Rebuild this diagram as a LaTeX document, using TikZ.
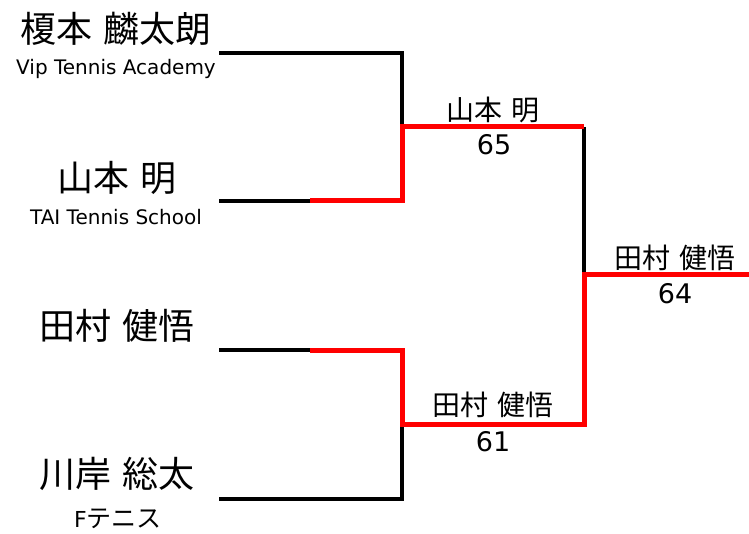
\documentclass[tikz,border=0pt]{standalone}
\usepackage{fontspec}
\setmainfont{DejaVu Sans}
\newfontfamily\jp{Noto Sans CJK JP}
\newcommand{\gap}{\hspace{0.3em}}
\begin{document}
\begin{tikzpicture}[x=1pt,y=-1pt,
  bline/.style={draw=black,line width=3.2pt,line join=miter},
  rline/.style={draw=red,line width=5pt,line join=miter},
  bigname/.style={inner sep=0pt,font=\jp\fontsize{36}{42}\selectfont},
  club/.style={inner sep=0pt,font=\fontsize{20}{24}\selectfont},
  winname/.style={inner sep=0pt,font=\jp\fontsize{28}{32}\selectfont},
  score/.style={inner sep=0pt,font=\fontsize{27}{31}\selectfont}]
\path[use as bounding box] (0,0) rectangle (749,534);
% player names
\node[bigname] (n1) at (116,29) {榎本\gap 麟太朗};
\node[club] (c1) at (116,69) {Vip Tennis Academy};
\node[bigname] (n2) at (117,178) {山本\gap 明};
\node[club] (c2) at (116,217) {TAI Tennis School};
\node[bigname] (n3) at (117,326) {田村\gap 健悟};
\node[bigname] (n4) at (117,474) {川岸\gap 総太};
\node[club] (c4) at (118,519) {{\fontsize{22}{26}\selectfont F}{\jp\fontsize{25}{29}\selectfont テニス}};
% winners and scores
\node[winname] (w1) at (493,110) {山本\gap 明};
\node[score] (s1) at (494,145) {65};
\node[winname] (w2) at (493,405) {田村\gap 健悟};
\node[score] (s2) at (493,442) {61};
\node[winname] (w3) at (675,258) {田村\gap 健悟};
\node[score] (s3) at (675,294) {64};
% bracket points
\coordinate (a1) at (219,53);
\coordinate (a2) at (219,201);
\coordinate (a3) at (219,350);
\coordinate (a4) at (219,499);
\coordinate (m2) at (310,201);
\coordinate (m3) at (310,350);
\coordinate (j1) at (402,53);
\coordinate (j2) at (402,201);
\coordinate (j3) at (402,350);
\coordinate (j4) at (402,499);
\coordinate (k1) at (402,127);
\coordinate (k2) at (402,424);
\coordinate (f1) at (584,127);
\coordinate (f2) at (584,424);
\coordinate (fm) at (584,275);
\coordinate (end) at (749,275);
% black lines
\draw[bline] (a1) -- (j1) -- (k1);
\draw[bline] (a2) -- (m2);
\draw[bline] (a3) -- (m3);
\draw[bline] (a4) -- (j4) -- (k2);
\draw[bline] (f1) -- (fm);
% red winner paths
\draw[rline] (m2) -- (j2) -- (k1) -- (f1);
\draw[rline] (m3) -- (j3) -- (k2) -- (f2) -- (fm) -- (end);
\end{tikzpicture}
\end{document}
